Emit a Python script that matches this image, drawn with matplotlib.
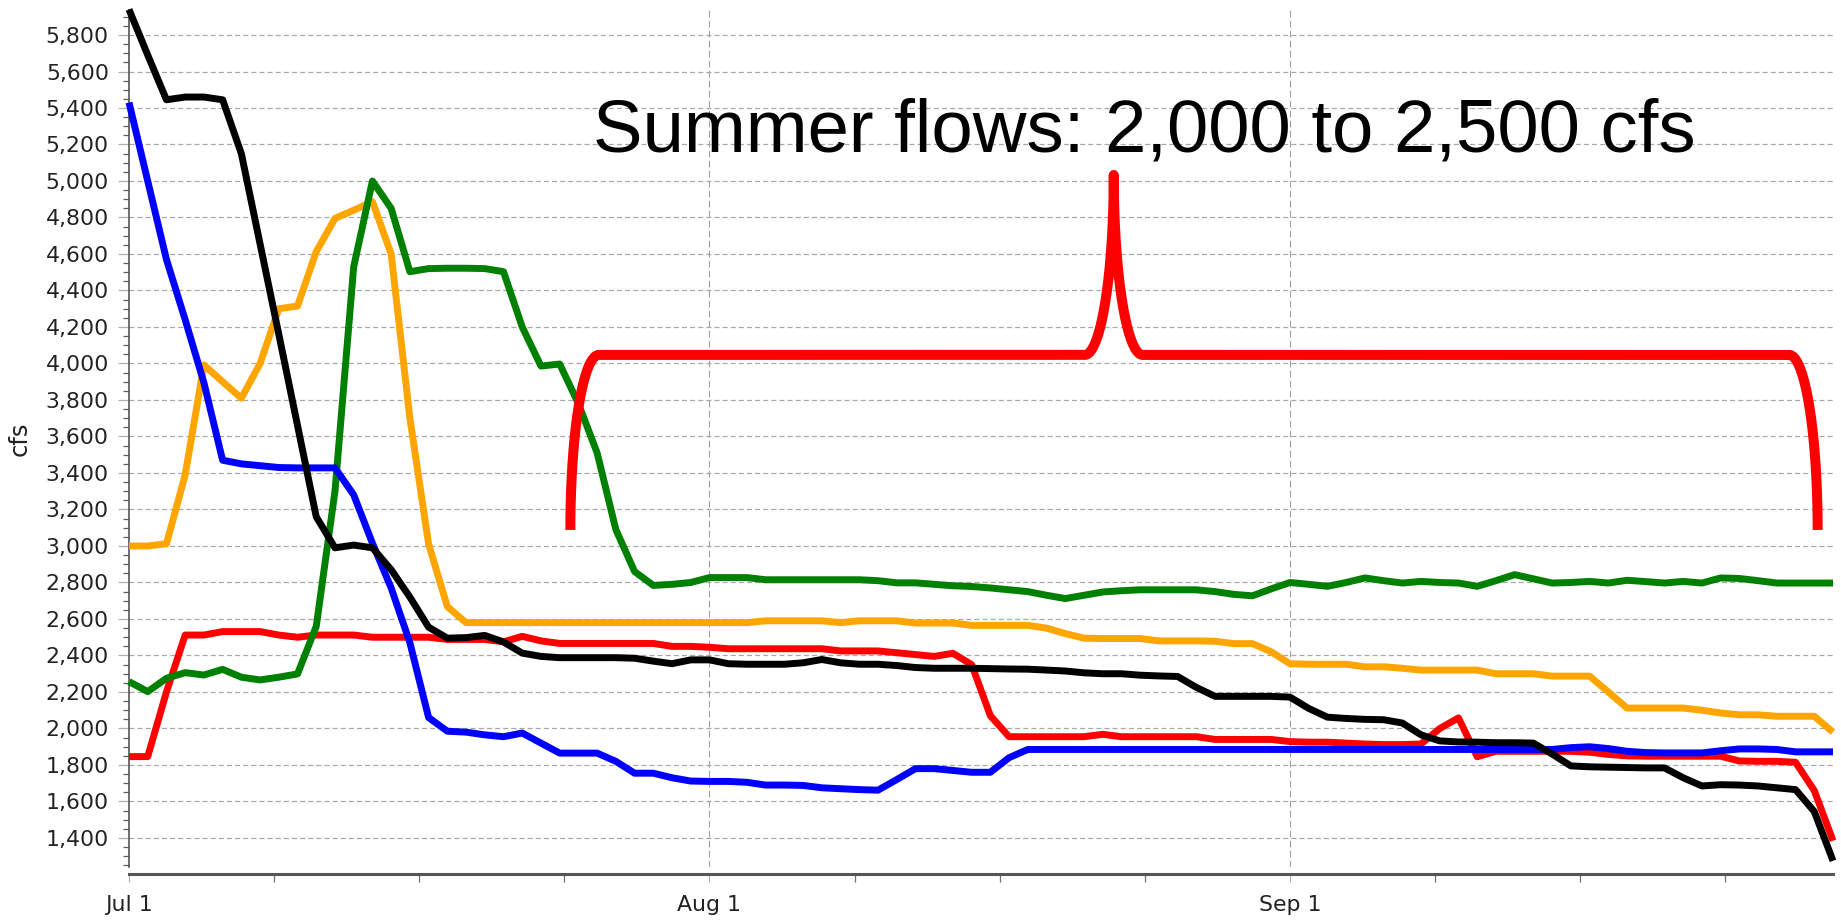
import numpy as np
import matplotlib
matplotlib.use("Agg")
import matplotlib.pyplot as plt
from matplotlib.ticker import FixedLocator, FuncFormatter, MultipleLocator

# ---------------- data (daily, Jul 1 .. Sep 30) ----------------
days = np.arange(92)
month_starts = [0, 31, 62]
month_labels = ["Jul 1", "Aug 1", "Sep 1"]

black = [5940, 5690, 5445, 5460, 5460, 5445, 5150, 4655, 4160, 3660,
         3160, 2990, 3005, 2990, 2870, 2720, 2555, 2495, 2498, 2510,
         2474, 2413, 2395, 2388, 2388, 2388, 2388, 2385, 2369, 2355,
         2376, 2376, 2355, 2352, 2352, 2352, 2360, 2378, 2360, 2352,
         2352, 2345, 2334, 2330, 2330, 2330, 2328, 2326, 2325, 2320,
         2315, 2305, 2300, 2300, 2292, 2288, 2285, 2225, 2176, 2176,
         2176, 2176, 2172, 2110, 2062, 2055, 2050, 2048, 2030, 1965,
         1932, 1926, 1925, 1922, 1922, 1920, 1860, 1795, 1790, 1788,
         1786, 1784, 1784, 1730, 1685, 1692, 1690, 1685, 1675, 1665,
         1545, 1275]

blue = [5430, 5000, 4570, 4240, 3895, 3470, 3450, 3440, 3430, 3428,
        3428, 3428, 3280, 3015, 2770, 2470, 2060, 1985, 1980, 1965,
        1955, 1975, 1920, 1865, 1865, 1865, 1820, 1755, 1755, 1730,
        1712, 1710, 1710, 1705, 1690, 1690, 1688, 1675, 1670, 1665,
        1662, 1720, 1780, 1780, 1770, 1760, 1760, 1840, 1885, 1885,
        1885, 1885, 1885, 1885, 1885, 1885, 1885, 1885, 1885, 1885,
        1885, 1885, 1885, 1885, 1885, 1885, 1885, 1885, 1885, 1885,
        1885, 1885, 1885, 1885, 1885, 1885, 1885, 1895, 1900, 1890,
        1875, 1868, 1866, 1866, 1866, 1878, 1888, 1888, 1885, 1872,
        1872, 1872]

green = [2257, 2202, 2275, 2306, 2293, 2324, 2281, 2266, 2281, 2299,
         2560, 3300, 4530, 5000, 4850, 4503, 4520, 4522, 4522, 4520,
         4503, 4200, 3986, 3997, 3780, 3510, 3090, 2860, 2784, 2790,
         2800, 2827, 2827, 2827, 2815, 2815, 2815, 2815, 2815, 2815,
         2810, 2798, 2798, 2790, 2782, 2778, 2770, 2760, 2750, 2730,
         2712, 2730, 2748, 2755, 2760, 2760, 2760, 2760, 2750, 2735,
         2727, 2765, 2800, 2790, 2779, 2800, 2825, 2810, 2797, 2806,
         2800, 2797, 2779, 2810, 2843, 2820, 2797, 2800, 2806, 2797,
         2812, 2805, 2797, 2806, 2797, 2825, 2822, 2810, 2797, 2797,
         2797, 2797]

orange = [3000, 3000, 3012, 3390, 3992, 3900, 3810, 4000, 4300, 4315,
          4613, 4795, 4840, 4887, 4600, 3700, 3010, 2668, 2580, 2580,
          2580, 2580, 2580, 2580, 2580, 2580, 2580, 2580, 2580, 2580,
          2580, 2580, 2580, 2580, 2590, 2590, 2590, 2590, 2580, 2590,
          2590, 2590, 2578, 2578, 2578, 2565, 2565, 2565, 2565, 2550,
          2520, 2495, 2493, 2493, 2493, 2480, 2480, 2480, 2478, 2465,
          2465, 2420, 2355, 2352, 2352, 2352, 2338, 2338, 2330, 2320,
          2320, 2320, 2320, 2300, 2300, 2300, 2287, 2287, 2287, 2200,
          2112, 2112, 2112, 2112, 2100, 2085, 2075, 2075, 2067, 2067,
          2067, 1980]

red = [1846, 1846, 2200, 2512, 2512, 2531, 2531, 2531, 2512, 2500,
       2512, 2512, 2512, 2500, 2500, 2500, 2500, 2488, 2488, 2488,
       2475, 2505, 2480, 2466, 2466, 2466, 2466, 2466, 2466, 2450,
       2450, 2445, 2437, 2437, 2437, 2437, 2437, 2437, 2425, 2425,
       2425, 2415, 2405, 2395, 2412, 2350, 2070, 1955, 1955, 1955,
       1955, 1955, 1968, 1955, 1955, 1955, 1955, 1955, 1940, 1940,
       1940, 1940, 1928, 1925, 1925, 1920, 1915, 1912, 1912, 1915,
       2000, 2058, 1845, 1875, 1875, 1875, 1875, 1875, 1870, 1858,
       1850, 1848, 1848, 1848, 1848, 1848, 1822, 1820, 1820, 1815,
       1660, 1385]

series_order = ["red", "orange", "green", "blue", "black"]
series_values = {"red": red, "orange": orange, "green": green,
                 "blue": blue, "black": black}
series_colors = {"red": "#ff0000", "orange": "#ffa500", "green": "#008000",
                 "blue": "#0000ff", "black": "#000000"}

y_ticks = list(range(1400, 5801, 200))
annotation = "Summer flows: 2,000 to 2,500 cfs"

# brace annotation geometry (days / cfs)
brace_left, brace_right = 23.57, 90.18
brace_bottom, brace_top = 3088, 4047
brace_peak_x, brace_peak_y = 52.59, 5033
brace_corner = 1.52
brace_half = 1.55

# ---------------- figure ----------------
W, H = 1841, 923
fig = plt.figure(figsize=(W / 100, H / 100), dpi=100)
ax_left, ax_right, ax_top, ax_bot = 129, 1833, 10, 867
ax = fig.add_axes([ax_left / W, 1 - ax_bot / H,
                   (ax_right - ax_left) / W, (ax_bot - ax_top) / H])
ax.set_xlim(0, 91)
ax.set_ylim(1241, 5937)
ax.set_axisbelow(True)

# grid
ax.yaxis.set_major_locator(FixedLocator(y_ticks))
ax.yaxis.set_minor_locator(MultipleLocator(50))
ax.yaxis.set_major_formatter(FuncFormatter(lambda v, p: f"{int(v):,}"))
ax.grid(axis="y", which="major", color="#a8a8a8", linewidth=0.9,
        linestyle=(0, (4, 2.5)))
for m in month_starts[1:]:
    ax.axvline(m, color="#a0a0a0", linewidth=0.8, linestyle=(0, (6, 3)),
               zorder=0.5)

# x ticks
minor_x = [m + k * 7.75 for m in month_starts for k in (1, 2, 3)]
ax.xaxis.set_major_locator(FixedLocator(month_starts))
ax.xaxis.set_minor_locator(FixedLocator(minor_x))
ax.set_xticklabels(month_labels)

ax.tick_params(axis="y", which="major", length=8, width=0.9, color="#b0b0b0",
               pad=6.5, labelsize=15.8, labelcolor="#222222")
ax.tick_params(axis="y", which="minor", length=4.5, width=0.9, color="#606060")
ax.tick_params(axis="x", which="major", length=6, width=0.9, color="#b0b0b0",
               pad=9, labelsize=15.8, labelcolor="#222222")
ax.tick_params(axis="x", which="minor", length=6, width=0.9, color="#707070")

for s in ("top", "right"):
    ax.spines[s].set_visible(False)
ax.spines["left"].set_color("#555555")
ax.spines["left"].set_linewidth(1.2)
ax.spines["bottom"].set_position(("outward", 5))
ax.spines["bottom"].set_color("#555555")
ax.spines["bottom"].set_linewidth(2.2)

ax.set_ylabel("cfs", fontsize=17.5, color="#222222")
ax.yaxis.set_label_coords((32 - ax_left) / (ax_right - ax_left), 0.5)

# series
for name in series_order:
    ax.plot(days, series_values[name], color=series_colors[name],
            linewidth=5.0, solid_joinstyle="round", solid_capstyle="butt",
            clip_on=False, zorder=3)

# brace
phi = np.linspace(0, np.pi / 2, 60)
ry = brace_top - brace_bottom
lx = brace_left + brace_corner - brace_corner * np.cos(phi)
ly = brace_bottom + ry * np.sin(phi)
pr = brace_peak_y - brace_top
p1x = (brace_peak_x - brace_half) + brace_half * np.sin(phi)
p1y = brace_peak_y - pr * np.cos(phi)
p2x = (brace_peak_x + brace_half) - brace_half * np.sin(phi[::-1])
p2y = brace_peak_y - pr * np.cos(phi[::-1])
rx_ = brace_right - brace_corner + brace_corner * np.cos(phi[::-1])
ry_ = brace_bottom + ry * np.sin(phi[::-1])
bx = np.concatenate([lx, p1x, p2x, rx_])
by = np.concatenate([ly, p1y, p2y, ry_])
ax.plot(bx, by, color="#ff0000", linewidth=7.2, solid_capstyle="butt",
        solid_joinstyle="round", clip_on=False, zorder=6)

ax.text((593 - ax_left) / (ax_right - ax_left), (ax_bot - 151.7) / (ax_bot - ax_top),
        annotation, transform=ax.transAxes, fontsize=53.6,
        family="Liberation Sans", color="#000000", ha="left", va="baseline",
        zorder=7)

fig.savefig("out.png", dpi=100, facecolor="white")
